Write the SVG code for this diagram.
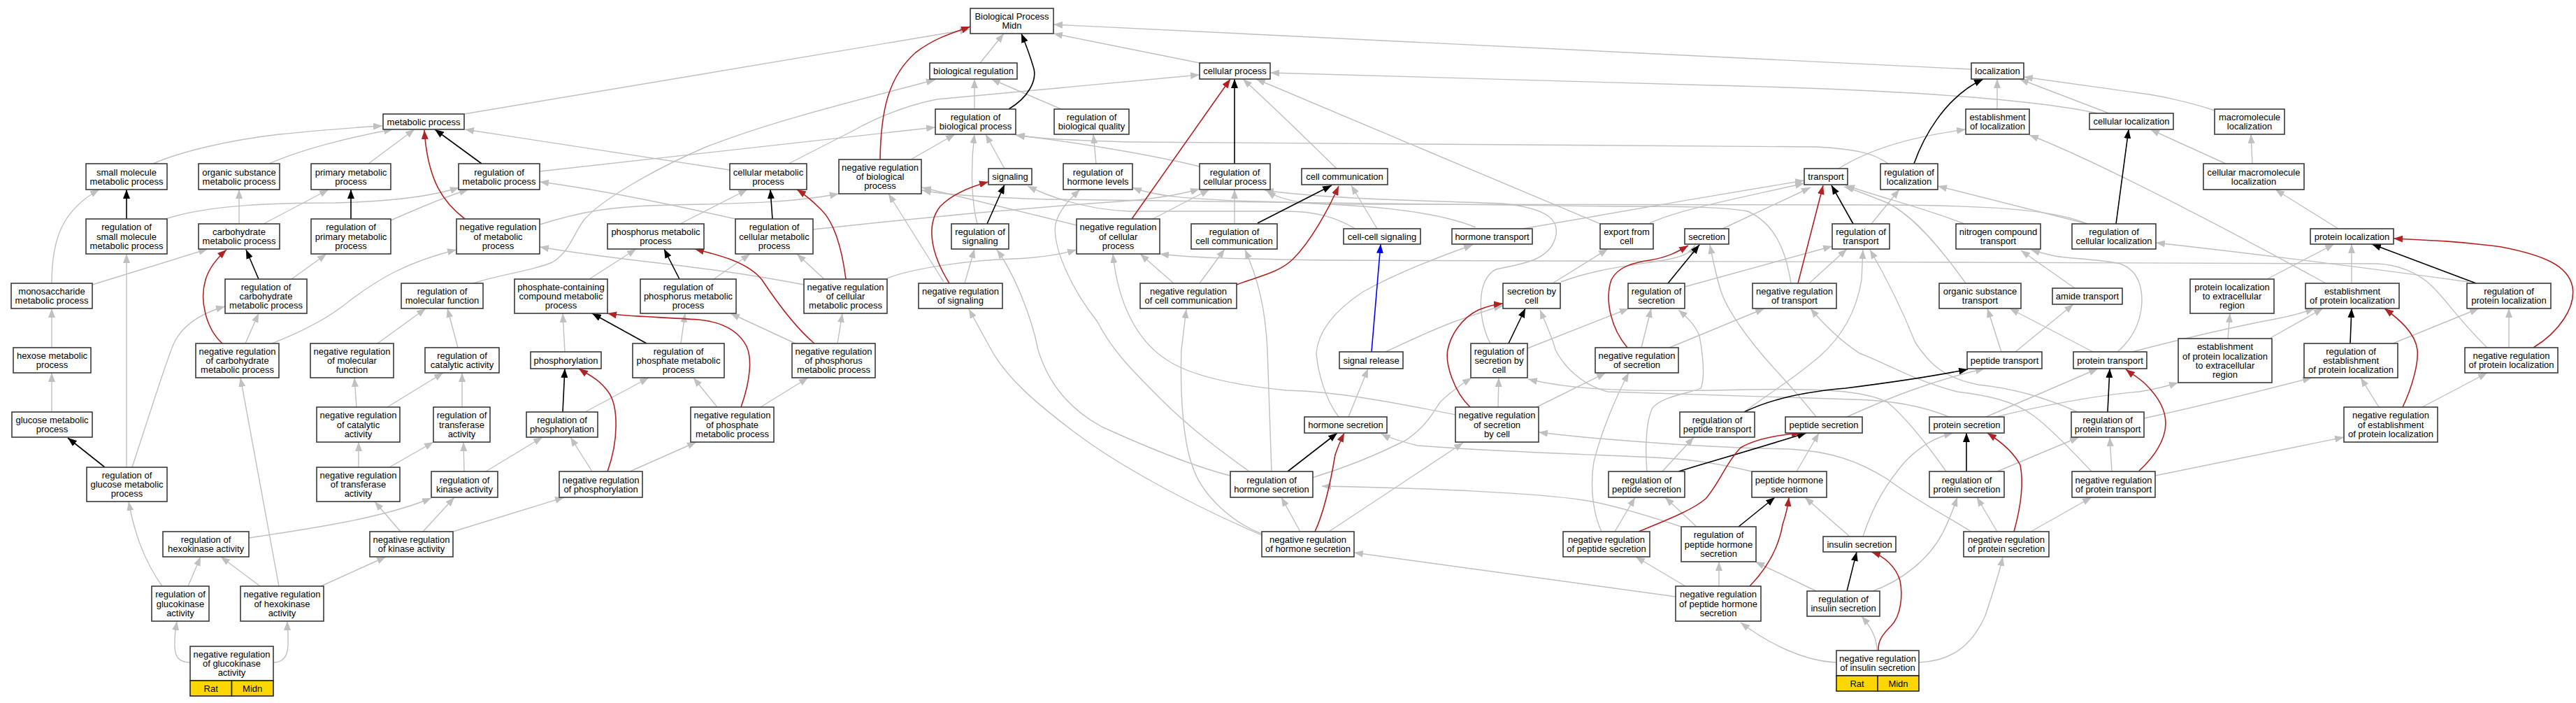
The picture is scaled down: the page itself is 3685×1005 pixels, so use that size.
<svg xmlns="http://www.w3.org/2000/svg" width="3685" height="1005" viewBox="0 0 3685 1005">
<style>
.e{fill:none;stroke:#c0c0c0;stroke-width:1.4;marker-end:url(#ag)}
.k{fill:none;stroke:#000;stroke-width:1.6;marker-end:url(#ak)}
.r{fill:none;stroke:#b22222;stroke-width:1.6;marker-end:url(#ar)}
.b{fill:none;stroke:#0000ff;stroke-width:1.6;marker-end:url(#ab)}
.n rect{fill:#fff;stroke:#3a3a3a;stroke-width:1.6}
.n rect.y{fill:#ffd700;stroke:#222}
.n text{font-family:"Liberation Sans",Arial,sans-serif;font-size:13px;text-anchor:middle;fill:#000}
</style>
<defs>
<marker id="ag" markerUnits="userSpaceOnUse" markerWidth="13" markerHeight="10" viewBox="0 0 13 10" refX="13" refY="5" orient="auto"><path d="M0,0 L13,5 L0,10 z" fill="#c0c0c0"/></marker>
<marker id="ak" markerUnits="userSpaceOnUse" markerWidth="13" markerHeight="10" viewBox="0 0 13 10" refX="13" refY="5" orient="auto"><path d="M0,0 L13,5 L0,10 z" fill="#000"/></marker>
<marker id="ar" markerUnits="userSpaceOnUse" markerWidth="13" markerHeight="10" viewBox="0 0 13 10" refX="13" refY="5" orient="auto"><path d="M0,0 L13,5 L0,10 z" fill="#b22222"/></marker>
<marker id="ab" markerUnits="userSpaceOnUse" markerWidth="13" markerHeight="10" viewBox="0 0 13 10" refX="13" refY="5" orient="auto"><path d="M0,0 L13,5 L0,10 z" fill="#0000ff"/></marker>
</defs>
<rect width="3685" height="1005" fill="#fff"/>
<g id="edges">
<path class="e" d="M219,234 C260,216 330,200 400,192 C460,186 510,182 547,180"/>
<path class="e" d="M385,234 C430,214 500,196 562,185"/>
<path class="e" d="M527,234 L593,185"/>
<path class="e" d="M1044,243 L665,185"/>
<path class="e" d="M74,405 C74,340 90,300 142,271"/>
<path class="e" d="M342,320 L342,271"/>
<path class="e" d="M377,320 L470,271"/>
<path class="e" d="M237,313 C300,292 400,290 480,290 C560,288 620,280 657,268"/>
<path class="e" d="M559,315 C600,297 640,280 670,271"/>
<path class="e" d="M417,399 L467,363"/>
<path class="e" d="M351,491 L370,448"/>
<path class="e" d="M132,407 L297,356"/>
<path class="e" d="M74,497 L74,441"/>
<path class="e" d="M181,668 L181,363"/>
<path class="e" d="M189,668 C205,620 230,540 245,500 C255,470 280,450 322,438"/>
<path class="e" d="M389,491 C430,475 470,455 500,430 C540,400 580,375 653,357"/>
<path class="e" d="M540,491 L609,441"/>
<path class="e" d="M74,589 L74,533"/>
<path class="e" d="M232,838 C205,800 192,760 184,717"/>
<path class="e" d="M269,838 L287,796"/>
<path class="e" d="M372,838 L316,796"/>
<path class="e" d="M399,838 L344,540"/>
<path class="e" d="M459,838 L552,796"/>
<path class="e" d="M272,947 C252,947 249,935 250,915 C250,905 252,895 253,888"/>
<path class="e" d="M391,947 C411,947 413,930 412,910 C412,902 411,895 411,888"/>
<path class="e" d="M356,769 C450,755 550,740 617,712"/>
<path class="e" d="M573,760 L536,717"/>
<path class="e" d="M605,760 L650,711"/>
<path class="e" d="M513,668 L513,632"/>
<path class="e" d="M557,668 L620,632"/>
<path class="e" d="M510,582 L507,540"/>
<path class="e" d="M554,582 L634,533"/>
<path class="e" d="M661,582 L661,533"/>
<path class="e" d="M664,674 L663,632"/>
<path class="e" d="M695,674 L776,625"/>
<path class="e" d="M648,760 L807,711"/>
<path class="e" d="M837,589 L928,540"/>
<path class="e" d="M847,674 L816,625"/>
<path class="e" d="M901,674 L996,632"/>
<path class="e" d="M1026,582 L992,540"/>
<path class="e" d="M1088,582 L1156,540"/>
<path class="e" d="M677,405 C710,393 760,388 790,375 C815,360 820,335 835,315 C860,285 940,240 1010,210 C1100,175 1200,150 1338,114"/>
<path class="e" d="M772,245 L1338,182"/>
<path class="e" d="M1128,234 L1220,187 C1260,165 1300,150 1340,142 L1716,107"/>
<path class="e" d="M664,163 L1386,42"/>
<path class="e" d="M772,321 C830,303 870,295 960,293 C1060,291 1130,290 1200,277"/>
<path class="e" d="M1052,313 C950,290 850,270 772,260"/>
<path class="e" d="M1163,328 L1220,322 C1350,308 1500,295 1615,287 C1660,283 1690,278 1716,270"/>
<path class="e" d="M973,320 L1069,271"/>
<path class="e" d="M1179,399 L1140,363"/>
<path class="e" d="M1150,407 C1000,378 900,375 772,353"/>
<path class="e" d="M843,399 L910,356"/>
<path class="e" d="M1021,399 L1073,363"/>
<path class="e" d="M974,491 L980,448"/>
<path class="e" d="M1138,491 L1045,448"/>
<path class="e" d="M1198,491 L1205,448"/>
<path class="e" d="M808,503 L805,448"/>
<path class="e" d="M655,497 L640,441"/>
<path class="e" d="M1269,398 C1300,385 1380,372 1450,370 C1490,368 1520,363 1540,357"/>
<path class="e" d="M1402,90 L1436,48"/>
<path class="e" d="M1394,156 L1394,113"/>
<path class="e" d="M1518,156 L1418,113"/>
<path class="e" d="M1716,90 L1507,48"/>
<path class="e" d="M2820,99 L1507,35"/>
<path class="e" d="M1303,228 L1366,192"/>
<path class="e" d="M1398,320 C1390,290 1388,240 1394,192"/>
<path class="e" d="M1437,241 L1410,192"/>
<path class="e" d="M1716,238 C1650,222 1550,205 1453,193"/>
<path class="e" d="M2701,234 C2680,218 2650,213 2600,210 L1620,203 C1540,201 1480,198 1453,193"/>
<path class="e" d="M1568,234 L1564,192"/>
<path class="e" d="M1380,405 L1394,356"/>
<path class="e" d="M1350,403 L1271,277"/>
<path class="e" d="M1540,322 L1319,268"/>
<path class="e" d="M1649,313 L1730,271"/>
<path class="e" d="M1766,320 L1766,271"/>
<path class="e" d="M1679,405 L1631,363"/>
<path class="e" d="M1716,405 L1752,356"/>
<path class="e" d="M1912,241 C1880,210 1830,160 1778,113"/>
<path class="e" d="M2289,320 L1797,113"/>
<path class="e" d="M3001,162 C2900,140 2700,128 2450,122 L1817,104"/>
<path class="e" d="M2111,325 C2050,300 1950,292 1800,288 C1700,285 1650,280 1620,268"/>
<path class="e" d="M1939,327 C1910,310 1880,302 1840,302 L1615,302 C1570,300 1520,290 1470,266"/>
<path class="e" d="M2132,491 C2115,460 2110,400 2140,385 C2170,378 2215,375 2225,340 C2232,315 2215,298 2150,291 C2050,287 1900,285 1809,272"/>
<path class="e" d="M2986,320 C2940,300 2850,294 2700,293 L1900,292 C1860,291 1830,285 1812,273"/>
<path class="e" d="M2562,405 C2555,360 2540,320 2500,302 C2460,295 2400,295 2300,295 L1500,285 C1400,282 1350,278 1319,272"/>
<path class="e" d="M1970,327 L1933,265"/>
<path class="e" d="M1915,596 C1895,570 1885,530 1883,505 C1885,480 1900,450 1950,417 C1990,395 2050,370 2107,350"/>
<path class="e" d="M2178,327 C2300,305 2450,280 2581,258"/>
<path class="e" d="M2360,319 C2400,300 2480,285 2581,262"/>
<path class="e" d="M2221,405 L2300,356"/>
<path class="e" d="M2233,403 C2280,385 2330,380 2380,372 C2410,367 2420,360 2425,350"/>
<path class="e" d="M2348,497 L2362,441"/>
<path class="e" d="M2410,410 L2621,352"/>
<path class="e" d="M2388,497 L2524,441"/>
<path class="e" d="M2464,327 L2590,268"/>
<path class="e" d="M2185,498 L2330,441"/>
<path class="e" d="M2143,582 L2144,540"/>
<path class="e" d="M2198,582 L2297,533"/>
<path class="e" d="M1982,503 C2000,495 2040,475 2080,460 C2110,450 2130,442 2150,437"/>
<path class="e" d="M1929,596 L1957,527"/>
<path class="e" d="M1860,760 L1833,711"/>
<path class="e" d="M1805,765 C1700,720 1600,665 1540,620 C1480,575 1440,540 1418,500 L1386,442"/>
<path class="e" d="M1805,763 C1765,748 1720,710 1706,667 C1692,630 1688,560 1690,500 L1697,442"/>
<path class="e" d="M1901,760 L2093,633"/>
<path class="e" d="M1760,680 C1700,665 1620,630 1576,610 C1530,585 1500,550 1485,500 C1475,450 1450,390 1426,357"/>
<path class="e" d="M1787,674 C1740,640 1700,610 1660,570 C1620,530 1590,500 1570,460 C1530,410 1505,350 1510,320 C1515,300 1530,285 1545,271"/>
<path class="e" d="M1819,674 L1813,500 C1810,440 1800,400 1781,357"/>
<path class="e" d="M1877,683 C1920,670 1970,650 2010,630 C2040,610 2050,590 2060,575 C2075,560 2090,550 2105,540"/>
<path class="e" d="M2083,593 C2000,577 1920,560 1840,558 C1760,550 1700,535 1670,515 C1630,490 1600,440 1592,363"/>
<path class="e" d="M2405,753 C2344,733 2300,720 2265,715 C2200,705 2050,698 1891,695"/>
<path class="e" d="M2506,674 C2460,663 2420,657 2383,655 C2300,650 2150,647 2028,637 C2000,630 1985,625 1976,620"/>
<path class="e" d="M2397,853 L1937,790"/>
<path class="e" d="M2291,760 C2277,730 2275,690 2280,660 C2290,620 2310,570 2330,533"/>
<path class="e" d="M2411,838 L2340,796"/>
<path class="e" d="M2310,760 L2339,711"/>
<path class="e" d="M2427,753 L2382,711"/>
<path class="e" d="M2356,674 C2353,640 2355,600 2364,583 C2380,565 2420,562 2433,555 C2440,540 2435,500 2431,480 C2425,465 2415,455 2401,443"/>
<path class="e" d="M2378,674 L2423,625"/>
<path class="e" d="M2570,674 L2602,619"/>
<path class="e" d="M2646,767 L2582,711"/>
<path class="e" d="M2459,838 L2459,803"/>
<path class="e" d="M2598,845 L2511,803"/>
<path class="e" d="M2685,930 C2685,910 2675,895 2663,881"/>
<path class="e" d="M2627,947 C2580,945 2530,920 2490,890"/>
<path class="e" d="M2745,947 C2790,945 2820,925 2840,880 C2850,850 2860,820 2865,796"/>
<path class="e" d="M2665,767 C2680,720 2700,690 2725,660 C2750,635 2770,625 2794,619"/>
<path class="e" d="M2679,845 C2720,830 2760,800 2780,760 C2790,740 2795,725 2800,711"/>
<path class="e" d="M2857,760 L2828,711"/>
<path class="e" d="M2820,760 C2780,735 2740,715 2700,685 C2660,660 2620,645 2560,642 C2450,640 2300,630 2201,618"/>
<path class="e" d="M2905,760 L2992,711"/>
<path class="e" d="M2857,674 L2974,625"/>
<path class="e" d="M2784,674 C2760,640 2730,600 2700,575 C2670,560 2620,553 2450,558 C2300,560 2240,555 2186,542"/>
<path class="e" d="M2788,596 C2750,580 2700,572 2650,571 L2300,560 C2260,550 2235,520 2225,500 C2220,480 2210,460 2203,443"/>
<path class="e" d="M2841,596 L3001,527"/>
<path class="e" d="M2855,596 C2920,580 3000,565 3060,560 C3080,557 3100,552 3116,547"/>
<path class="e" d="M2598,596 C2570,560 2540,530 2519,505 C2490,470 2470,440 2462,417 C2455,395 2450,370 2446,350"/>
<path class="e" d="M2642,596 C2700,570 2760,545 2839,527"/>
<path class="e" d="M2495,589 C2520,570 2560,545 2590,520 C2630,490 2655,450 2663,400 L2665,357"/>
<path class="e" d="M2992,674 C2960,640 2930,610 2910,595 C2880,572 2840,565 2800,560 C2740,545 2700,520 2660,505 C2630,485 2610,465 2590,441"/>
<path class="e" d="M2972,589 C2930,570 2880,555 2830,550 C2780,540 2760,520 2740,490 C2720,440 2700,400 2675,357"/>
<path class="e" d="M3021,674 L3018,625"/>
<path class="e" d="M3083,680 L3353,625"/>
<path class="e" d="M3067,598 C3150,580 3230,560 3307,540"/>
<path class="e" d="M2994,503 L2875,441"/>
<path class="e" d="M3029,503 C3050,485 3063,460 3064,430 C3064,405 3055,385 3033,377 C3000,370 2960,370 2940,366 C2925,363 2915,360 2905,357"/>
<path class="e" d="M3050,503 C3100,490 3180,470 3260,455 C3285,450 3300,445 3311,441"/>
<path class="e" d="M2863,503 L2843,441"/>
<path class="e" d="M2883,503 L2966,435"/>
<path class="e" d="M2968,412 L2891,358"/>
<path class="e" d="M2812,405 C2780,360 2740,310 2700,290 C2670,278 2650,270 2638,267"/>
<path class="e" d="M2810,320 C2760,300 2700,285 2640,265"/>
<path class="e" d="M2588,405 L2642,356"/>
<path class="e" d="M2677,320 L2717,271"/>
<path class="e" d="M2630,241 C2680,210 2740,195 2812,185"/>
<path class="e" d="M2857,156 L2857,113"/>
<path class="e" d="M3017,162 L2889,113"/>
<path class="e" d="M3168,158 C3130,145 3080,135 3060,133 L2895,110"/>
<path class="e" d="M2986,320 L2772,266"/>
<path class="e" d="M3184,234 L3076,185"/>
<path class="e" d="M3222,234 L3220,192"/>
<path class="e" d="M3345,327 L3255,271"/>
<path class="e" d="M3327,405 C3200,335 3000,230 2903,193"/>
<path class="e" d="M3243,399 L3339,349"/>
<path class="e" d="M3364,405 L3364,349"/>
<path class="e" d="M3187,484 L3190,448"/>
<path class="e" d="M3248,483 L3323,441"/>
<path class="e" d="M3423,491 L3546,441"/>
<path class="e" d="M3589,497 L3589,441"/>
<path class="e" d="M3403,582 L3377,540"/>
<path class="e" d="M3465,582 L3558,533"/>
<path class="e" d="M3531,403 C3400,385 3200,360 3084,347"/>
<path class="e" d="M3558,497 C3520,460 3500,430 3480,410 C3460,390 3430,378 3400,377 L1900,372 C1750,370 1700,368 1659,363"/>
<path class="k" d="M689,234 L622,185"/>
<path class="k" d="M181,313 L181,271"/>
<path class="k" d="M502,313 L502,271"/>
<path class="k" d="M370,399 L352,357"/>
<path class="k" d="M150,668 L97,626"/>
<path class="k" d="M805,589 L808,527"/>
<path class="k" d="M1105,313 L1102,271"/>
<path class="k" d="M972,399 L950,356"/>
<path class="k" d="M925,491 L847,448"/>
<path class="k" d="M1443,156 C1470,140 1485,115 1478,95 C1472,75 1466,60 1461,48"/>
<path class="k" d="M1766,234 L1766,113"/>
<path class="k" d="M1412,320 L1437,264"/>
<path class="k" d="M1799,319 L1905,265"/>
<path class="k" d="M2386,405 L2431,350"/>
<path class="k" d="M2158,491 L2182,441"/>
<path class="k" d="M1842,674 L1913,619"/>
<path class="k" d="M2401,674 C2440,662 2500,645 2584,619"/>
<path class="k" d="M2487,753 L2539,711"/>
<path class="k" d="M2642,845 L2656,789"/>
<path class="k" d="M2813,674 L2813,619"/>
<path class="k" d="M2495,589 C2530,572 2580,560 2640,555 C2720,545 2780,535 2815,528"/>
<path class="k" d="M3015,589 L3018,527"/>
<path class="k" d="M2651,320 L2620,265"/>
<path class="k" d="M2738,234 C2750,200 2780,140 2837,113"/>
<path class="k" d="M3027,320 L3045,185"/>
<path class="k" d="M3542,405 L3393,349"/>
<path class="k" d="M3362,491 L3364,441"/>
<path class="r" d="M665,313 C635,290 612,260 607,186"/>
<path class="r" d="M318,491 C295,470 285,430 294,400 C300,380 315,365 324,357"/>
<path class="r" d="M869,674 C885,630 885,580 870,560 C855,540 840,535 828,527"/>
<path class="r" d="M1060,582 C1075,540 1075,510 1068,495 C1055,470 1030,460 1000,457 C940,453 890,452 869,448"/>
<path class="r" d="M1210,399 C1205,360 1195,320 1175,300 C1160,285 1148,276 1140,271"/>
<path class="r" d="M1165,491 C1140,470 1110,430 1090,400 C1070,375 1030,365 994,356"/>
<path class="r" d="M1259,228 C1260,160 1270,110 1310,75 C1340,52 1370,45 1388,38"/>
<path class="r" d="M1619,313 L1760,113"/>
<path class="r" d="M1358,405 C1330,360 1325,320 1345,295 C1365,275 1395,265 1414,260"/>
<path class="r" d="M1769,407 C1800,395 1830,390 1850,370 C1875,345 1900,300 1915,266"/>
<path class="r" d="M2328,497 C2305,470 2295,430 2305,400 C2315,380 2340,375 2360,372 C2385,368 2400,360 2415,351"/>
<path class="r" d="M2103,582 C2080,560 2067,520 2071,500 C2075,480 2090,455 2115,443 C2130,437 2140,435 2150,434"/>
<path class="r" d="M1881,760 C1895,730 1905,680 1910,650 C1915,635 1920,625 1923,619"/>
<path class="r" d="M2344,760 C2380,745 2420,730 2440,713 C2460,690 2470,660 2490,640 C2510,628 2540,622 2576,619"/>
<path class="r" d="M2503,838 C2530,810 2545,780 2550,750 C2555,735 2558,720 2559,711"/>
<path class="r" d="M2687,930 C2686,915 2695,905 2705,895 C2720,880 2722,850 2718,830 C2712,810 2695,795 2677,789"/>
<path class="r" d="M2881,760 C2892,720 2895,690 2890,665 C2880,645 2860,630 2843,619"/>
<path class="r" d="M3060,673 C3080,655 3098,630 3098,605 C3098,580 3080,560 3070,550 C3060,540 3050,535 3041,528"/>
<path class="r" d="M2572,405 L2608,265"/>
<path class="r" d="M3624,497 C3660,475 3685,440 3680,410 C3674,380 3640,365 3578,353 C3520,345 3470,343 3424,341"/>
<path class="r" d="M3437,582 C3450,555 3460,520 3458,500 C3455,475 3430,455 3411,441"/>
<path class="b" d="M1962,503 L1975,349"/>
</g>
<g id="n_bp" class="n"><rect x="1388" y="12" width="119" height="36"/><text><tspan x="1447.5" y="27.9">Biological Process</tspan><tspan x="1447.5" y="41.2">Midn</tspan></text></g>
<g id="n_bioreg" class="n"><rect x="1330" y="90" width="125" height="23"/><text x="1392.5" y="106.1">biological regulation</text></g>
<g id="n_cellproc" class="n"><rect x="1716" y="90" width="101" height="23"/><text x="1766.5" y="106.1">cellular process</text></g>
<g id="n_loc" class="n"><rect x="2820" y="90" width="75" height="23"/><text x="2857.5" y="106.1">localization</text></g>
<g id="n_regbio" class="n"><rect x="1338" y="156" width="115" height="36"/><text><tspan x="1395.5" y="172">regulation of</tspan><tspan x="1395.5" y="185.3">biological process</tspan></text></g>
<g id="n_regbioq" class="n"><rect x="1508" y="156" width="107" height="36"/><text><tspan x="1561.5" y="172">regulation of</tspan><tspan x="1561.5" y="185.3">biological quality</tspan></text></g>
<g id="n_estloc" class="n"><rect x="2812" y="156" width="91" height="36"/><text><tspan x="2857.5" y="172">establishment</tspan><tspan x="2857.5" y="185.3">of localization</tspan></text></g>
<g id="n_macroloc" class="n"><rect x="3168" y="156" width="100" height="36"/><text><tspan x="3218" y="172">macromolecule</tspan><tspan x="3218" y="185.3">localization</tspan></text></g>
<g id="n_cellloc" class="n"><rect x="2989" y="162" width="120" height="23"/><text x="3049" y="178.1">cellular localization</text></g>
<g id="n_metab" class="n"><rect x="548" y="163" width="116" height="22"/><text x="606" y="178.6">metabolic process</text></g>
<g id="n_negregbio" class="n"><rect x="1200" y="228" width="118" height="49"/><text><tspan x="1259" y="243.8">negative regulation</tspan><tspan x="1259" y="257.1">of biological</tspan><tspan x="1259" y="270.4">process</tspan></text></g>
<g id="n_smallmol" class="n"><rect x="123" y="234" width="116" height="37"/><text><tspan x="181" y="250.5">small molecule</tspan><tspan x="181" y="263.8">metabolic process</tspan></text></g>
<g id="n_orgsub" class="n"><rect x="284" y="234" width="116" height="37"/><text><tspan x="342" y="250.5">organic substance</tspan><tspan x="342" y="263.8">metabolic process</tspan></text></g>
<g id="n_primary" class="n"><rect x="445" y="234" width="114" height="37"/><text><tspan x="502" y="250.5">primary metabolic</tspan><tspan x="502" y="263.8">process</tspan></text></g>
<g id="n_regmetab" class="n"><rect x="656" y="234" width="116" height="37"/><text><tspan x="714" y="250.5">regulation of</tspan><tspan x="714" y="263.8">metabolic process</tspan></text></g>
<g id="n_cellmetab" class="n"><rect x="1044" y="234" width="110" height="37"/><text><tspan x="1099" y="250.5">cellular metabolic</tspan><tspan x="1099" y="263.8">process</tspan></text></g>
<g id="n_reghormlev" class="n"><rect x="1521" y="234" width="99" height="37"/><text><tspan x="1570.5" y="250.5">regulation of</tspan><tspan x="1570.5" y="263.8">hormone levels</tspan></text></g>
<g id="n_regcellproc" class="n"><rect x="1716" y="234" width="101" height="37"/><text><tspan x="1766.5" y="250.5">regulation of</tspan><tspan x="1766.5" y="263.8">cellular process</tspan></text></g>
<g id="n_regloc" class="n"><rect x="2690" y="234" width="82" height="37"/><text><tspan x="2731" y="250.5">regulation of</tspan><tspan x="2731" y="263.8">localization</tspan></text></g>
<g id="n_cellmacroloc" class="n"><rect x="3152" y="234" width="144" height="37"/><text><tspan x="3224" y="250.5">cellular macromolecule</tspan><tspan x="3224" y="263.8">localization</tspan></text></g>
<g id="n_signaling" class="n"><rect x="1414" y="241" width="62" height="23"/><text x="1445" y="257.1">signaling</text></g>
<g id="n_cellcomm" class="n"><rect x="1862" y="241" width="123" height="23"/><text x="1923.5" y="257.1">cell communication</text></g>
<g id="n_transport" class="n"><rect x="2581" y="241" width="62" height="23"/><text x="2612" y="257.1">transport</text></g>
<g id="n_regsmall" class="n"><rect x="123" y="313" width="116" height="50"/><text><tspan x="181" y="329.3">regulation of</tspan><tspan x="181" y="342.6">small molecule</tspan><tspan x="181" y="355.9">metabolic process</tspan></text></g>
<g id="n_regprimary" class="n"><rect x="445" y="313" width="114" height="50"/><text><tspan x="502" y="329.3">regulation of</tspan><tspan x="502" y="342.6">primary metabolic</tspan><tspan x="502" y="355.9">process</tspan></text></g>
<g id="n_negregmetab" class="n"><rect x="653" y="313" width="119" height="50"/><text><tspan x="712.5" y="329.3">negative regulation</tspan><tspan x="712.5" y="342.6">of metabolic</tspan><tspan x="712.5" y="355.9">process</tspan></text></g>
<g id="n_regcellmetab" class="n"><rect x="1052" y="313" width="111" height="50"/><text><tspan x="1107.5" y="329.3">regulation of</tspan><tspan x="1107.5" y="342.6">cellular metabolic</tspan><tspan x="1107.5" y="355.9">process</tspan></text></g>
<g id="n_negregcellproc" class="n"><rect x="1540" y="313" width="119" height="50"/><text><tspan x="1599.5" y="329.3">negative regulation</tspan><tspan x="1599.5" y="342.6">of cellular</tspan><tspan x="1599.5" y="355.9">process</tspan></text></g>
<g id="n_carb" class="n"><rect x="284" y="320" width="116" height="36"/><text><tspan x="342" y="336">carbohydrate</tspan><tspan x="342" y="349.3">metabolic process</tspan></text></g>
<g id="n_phosphorus" class="n"><rect x="869" y="320" width="138" height="36"/><text><tspan x="938" y="336">phosphorus metabolic</tspan><tspan x="938" y="349.3">process</tspan></text></g>
<g id="n_regsignaling" class="n"><rect x="1361" y="320" width="82" height="36"/><text><tspan x="1402" y="336">regulation of</tspan><tspan x="1402" y="349.3">signaling</tspan></text></g>
<g id="n_regcellcomm" class="n"><rect x="1704" y="320" width="123" height="36"/><text><tspan x="1765.5" y="336">regulation of</tspan><tspan x="1765.5" y="349.3">cell communication</tspan></text></g>
<g id="n_export" class="n"><rect x="2289" y="320" width="76" height="36"/><text><tspan x="2327" y="336">export from</tspan><tspan x="2327" y="349.3">cell</tspan></text></g>
<g id="n_regtransport" class="n"><rect x="2621" y="320" width="82" height="36"/><text><tspan x="2662" y="336">regulation of</tspan><tspan x="2662" y="349.3">transport</tspan></text></g>
<g id="n_nitrogen" class="n"><rect x="2798" y="320" width="121" height="36"/><text><tspan x="2858.5" y="336">nitrogen compound</tspan><tspan x="2858.5" y="349.3">transport</tspan></text></g>
<g id="n_regcellloc" class="n"><rect x="2964" y="320" width="120" height="36"/><text><tspan x="3024" y="336">regulation of</tspan><tspan x="3024" y="349.3">cellular localization</tspan></text></g>
<g id="n_cellcell" class="n"><rect x="1922" y="327" width="110" height="22"/><text x="1977" y="342.6">cell-cell signaling</text></g>
<g id="n_hormtrans" class="n"><rect x="2077" y="327" width="115" height="22"/><text x="2134.5" y="342.6">hormone transport</text></g>
<g id="n_secretion" class="n"><rect x="2410" y="327" width="63" height="22"/><text x="2441.5" y="342.6">secretion</text></g>
<g id="n_protloc" class="n"><rect x="3305" y="327" width="119" height="22"/><text x="3364.5" y="342.6">protein localization</text></g>
<g id="n_regcarb" class="n"><rect x="322" y="399" width="117" height="49"/><text><tspan x="380.5" y="414.8">regulation of</tspan><tspan x="380.5" y="428.1">carbohydrate</tspan><tspan x="380.5" y="441.4">metabolic process</tspan></text></g>
<g id="n_phosphate" class="n"><rect x="736" y="399" width="133" height="49"/><text><tspan x="802.5" y="414.8">phosphate-containing</tspan><tspan x="802.5" y="428.1">compound metabolic</tspan><tspan x="802.5" y="441.4">process</tspan></text></g>
<g id="n_regphosphorus" class="n"><rect x="916" y="399" width="137" height="49"/><text><tspan x="984.5" y="414.8">regulation of</tspan><tspan x="984.5" y="428.1">phosphorus metabolic</tspan><tspan x="984.5" y="441.4">process</tspan></text></g>
<g id="n_negregcellmetab" class="n"><rect x="1150" y="399" width="119" height="49"/><text><tspan x="1209.5" y="414.8">negative regulation</tspan><tspan x="1209.5" y="428.1">of cellular</tspan><tspan x="1209.5" y="441.4">metabolic process</tspan></text></g>
<g id="n_protlocextra" class="n"><rect x="3133" y="399" width="120" height="49"/><text><tspan x="3193" y="414.8">protein localization</tspan><tspan x="3193" y="428.1">to extracellular</tspan><tspan x="3193" y="441.4">region</tspan></text></g>
<g id="n_monosacch" class="n"><rect x="16" y="405" width="116" height="36"/><text><tspan x="74" y="421">monosaccharide</tspan><tspan x="74" y="434.3">metabolic process</tspan></text></g>
<g id="n_regmolfunc" class="n"><rect x="574" y="405" width="117" height="36"/><text><tspan x="632.5" y="421">regulation of</tspan><tspan x="632.5" y="434.3">molecular function</tspan></text></g>
<g id="n_negregsignaling" class="n"><rect x="1314" y="405" width="120" height="36"/><text><tspan x="1374" y="421">negative regulation</tspan><tspan x="1374" y="434.3">of signaling</tspan></text></g>
<g id="n_negregcellcomm" class="n"><rect x="1631" y="405" width="138" height="36"/><text><tspan x="1700" y="421">negative regulation</tspan><tspan x="1700" y="434.3">of cell communication</tspan></text></g>
<g id="n_seccell" class="n"><rect x="2150" y="405" width="82" height="36"/><text><tspan x="2191" y="421">secretion by</tspan><tspan x="2191" y="434.3">cell</tspan></text></g>
<g id="n_regsecretion" class="n"><rect x="2329" y="405" width="81" height="36"/><text><tspan x="2369.5" y="421">regulation of</tspan><tspan x="2369.5" y="434.3">secretion</tspan></text></g>
<g id="n_negregtransport" class="n"><rect x="2507" y="405" width="120" height="36"/><text><tspan x="2567" y="421">negative regulation</tspan><tspan x="2567" y="434.3">of transport</tspan></text></g>
<g id="n_orgsubtrans" class="n"><rect x="2774" y="405" width="117" height="36"/><text><tspan x="2832.5" y="421">organic substance</tspan><tspan x="2832.5" y="434.3">transport</tspan></text></g>
<g id="n_estprotloc" class="n"><rect x="3298" y="405" width="134" height="36"/><text><tspan x="3365" y="421">establishment</tspan><tspan x="3365" y="434.3">of protein localization</tspan></text></g>
<g id="n_regprotloc" class="n"><rect x="3529" y="405" width="120" height="36"/><text><tspan x="3589" y="421">regulation of</tspan><tspan x="3589" y="434.3">protein localization</tspan></text></g>
<g id="n_amide" class="n"><rect x="2936" y="412" width="100" height="23"/><text x="2986" y="428.1">amide transport</text></g>
<g id="n_estprotlocextra" class="n"><rect x="3116" y="484" width="134" height="63"/><text><tspan x="3183" y="500.2">establishment</tspan><tspan x="3183" y="513.5">of protein localization</tspan><tspan x="3183" y="526.8">to extracellular</tspan><tspan x="3183" y="540.1">region</tspan></text></g>
<g id="n_negregcarb" class="n"><rect x="280" y="491" width="119" height="49"/><text><tspan x="339.5" y="506.8">negative regulation</tspan><tspan x="339.5" y="520.1">of carbohydrate</tspan><tspan x="339.5" y="533.4">metabolic process</tspan></text></g>
<g id="n_negregmolfunc" class="n"><rect x="444" y="491" width="119" height="49"/><text><tspan x="503.5" y="506.8">negative regulation</tspan><tspan x="503.5" y="520.1">of molecular</tspan><tspan x="503.5" y="533.4">function</tspan></text></g>
<g id="n_regphosphate" class="n"><rect x="905" y="491" width="131" height="49"/><text><tspan x="970.5" y="506.8">regulation of</tspan><tspan x="970.5" y="520.1">phosphate metabolic</tspan><tspan x="970.5" y="533.4">process</tspan></text></g>
<g id="n_negregphosphorus" class="n"><rect x="1133" y="491" width="119" height="49"/><text><tspan x="1192.5" y="506.8">negative regulation</tspan><tspan x="1192.5" y="520.1">of phosphorus</tspan><tspan x="1192.5" y="533.4">metabolic process</tspan></text></g>
<g id="n_regseccell" class="n"><rect x="2104" y="491" width="81" height="49"/><text><tspan x="2144.5" y="506.8">regulation of</tspan><tspan x="2144.5" y="520.1">secretion by</tspan><tspan x="2144.5" y="533.4">cell</tspan></text></g>
<g id="n_regestprotloc" class="n"><rect x="3296" y="491" width="134" height="49"/><text><tspan x="3363" y="506.8">regulation of</tspan><tspan x="3363" y="520.1">establishment</tspan><tspan x="3363" y="533.4">of protein localization</tspan></text></g>
<g id="n_hexose" class="n"><rect x="19" y="497" width="111" height="36"/><text><tspan x="74.5" y="513">hexose metabolic</tspan><tspan x="74.5" y="526.3">process</tspan></text></g>
<g id="n_regcatalytic" class="n"><rect x="608" y="497" width="106" height="36"/><text><tspan x="661" y="513">regulation of</tspan><tspan x="661" y="526.3">catalytic activity</tspan></text></g>
<g id="n_negregsecretion" class="n"><rect x="2282" y="497" width="119" height="36"/><text><tspan x="2341.5" y="513">negative regulation</tspan><tspan x="2341.5" y="526.3">of secretion</tspan></text></g>
<g id="n_negregprotloc" class="n"><rect x="3526" y="497" width="133" height="36"/><text><tspan x="3592.5" y="513">negative regulation</tspan><tspan x="3592.5" y="526.3">of protein localization</tspan></text></g>
<g id="n_phosphorylation" class="n"><rect x="759" y="503" width="101" height="24"/><text x="809.5" y="519.6">phosphorylation</text></g>
<g id="n_signalrelease" class="n"><rect x="1916" y="503" width="91" height="24"/><text x="1961.5" y="519.6">signal release</text></g>
<g id="n_peptrans" class="n"><rect x="2814" y="503" width="107" height="24"/><text x="2867.5" y="519.6">peptide transport</text></g>
<g id="n_prottrans" class="n"><rect x="2966" y="503" width="105" height="24"/><text x="3018.5" y="519.6">protein transport</text></g>
<g id="n_negregcatalytic" class="n"><rect x="453" y="582" width="119" height="50"/><text><tspan x="512.5" y="598.3">negative regulation</tspan><tspan x="512.5" y="611.6">of catalytic</tspan><tspan x="512.5" y="624.9">activity</tspan></text></g>
<g id="n_regtransferase" class="n"><rect x="620" y="582" width="81" height="50"/><text><tspan x="660.5" y="598.3">regulation of</tspan><tspan x="660.5" y="611.6">transferase</tspan><tspan x="660.5" y="624.9">activity</tspan></text></g>
<g id="n_negregphosphate" class="n"><rect x="988" y="582" width="119" height="50"/><text><tspan x="1047.5" y="598.3">negative regulation</tspan><tspan x="1047.5" y="611.6">of phosphate</tspan><tspan x="1047.5" y="624.9">metabolic process</tspan></text></g>
<g id="n_negregseccell" class="n"><rect x="2082" y="582" width="119" height="50"/><text><tspan x="2141.5" y="598.3">negative regulation</tspan><tspan x="2141.5" y="611.6">of secretion</tspan><tspan x="2141.5" y="624.9">by cell</tspan></text></g>
<g id="n_negregestprotloc" class="n"><rect x="3353" y="582" width="134" height="50"/><text><tspan x="3420" y="598.3">negative regulation</tspan><tspan x="3420" y="611.6">of establishment</tspan><tspan x="3420" y="624.9">of protein localization</tspan></text></g>
<g id="n_glucose" class="n"><rect x="17" y="589" width="115" height="36"/><text><tspan x="74.5" y="605">glucose metabolic</tspan><tspan x="74.5" y="618.3">process</tspan></text></g>
<g id="n_regphosphorylation" class="n"><rect x="753" y="589" width="102" height="36"/><text><tspan x="804" y="605">regulation of</tspan><tspan x="804" y="618.3">phosphorylation</tspan></text></g>
<g id="n_regpeptrans" class="n"><rect x="2403" y="589" width="107" height="36"/><text><tspan x="2456.5" y="605">regulation of</tspan><tspan x="2456.5" y="618.3">peptide transport</tspan></text></g>
<g id="n_regprottrans" class="n"><rect x="2963" y="589" width="104" height="36"/><text><tspan x="3015" y="605">regulation of</tspan><tspan x="3015" y="618.3">protein transport</tspan></text></g>
<g id="n_hormsec" class="n"><rect x="1866" y="596" width="118" height="23"/><text x="1925" y="612.1">hormone secretion</text></g>
<g id="n_pepsec" class="n"><rect x="2554" y="596" width="110" height="23"/><text x="2609" y="612.1">peptide secretion</text></g>
<g id="n_protsec" class="n"><rect x="2760" y="596" width="107" height="23"/><text x="2813.5" y="612.1">protein secretion</text></g>
<g id="n_regglucose" class="n"><rect x="124" y="668" width="115" height="49"/><text><tspan x="181.5" y="683.8">regulation of</tspan><tspan x="181.5" y="697.1">glucose metabolic</tspan><tspan x="181.5" y="710.4">process</tspan></text></g>
<g id="n_negregtransferase" class="n"><rect x="453" y="668" width="119" height="49"/><text><tspan x="512.5" y="683.8">negative regulation</tspan><tspan x="512.5" y="697.1">of transferase</tspan><tspan x="512.5" y="710.4">activity</tspan></text></g>
<g id="n_regkinase" class="n"><rect x="617" y="674" width="95" height="37"/><text><tspan x="664.5" y="690.5">regulation of</tspan><tspan x="664.5" y="703.8">kinase activity</tspan></text></g>
<g id="n_negregphosphorylation" class="n"><rect x="800" y="674" width="119" height="37"/><text><tspan x="859.5" y="690.5">negative regulation</tspan><tspan x="859.5" y="703.8">of phosphorylation</tspan></text></g>
<g id="n_reghormsec" class="n"><rect x="1760" y="674" width="118" height="37"/><text><tspan x="1819" y="690.5">regulation of</tspan><tspan x="1819" y="703.8">hormone secretion</tspan></text></g>
<g id="n_regpepsec" class="n"><rect x="2301" y="674" width="109" height="37"/><text><tspan x="2355.5" y="690.5">regulation of</tspan><tspan x="2355.5" y="703.8">peptide secretion</tspan></text></g>
<g id="n_pephormsec" class="n"><rect x="2506" y="674" width="107" height="37"/><text><tspan x="2559.5" y="690.5">peptide hormone</tspan><tspan x="2559.5" y="703.8">secretion</tspan></text></g>
<g id="n_regprotsec" class="n"><rect x="2760" y="674" width="107" height="37"/><text><tspan x="2813.5" y="690.5">regulation of</tspan><tspan x="2813.5" y="703.8">protein secretion</tspan></text></g>
<g id="n_negregprottrans" class="n"><rect x="2964" y="674" width="119" height="37"/><text><tspan x="3023.5" y="690.5">negative regulation</tspan><tspan x="3023.5" y="703.8">of protein transport</tspan></text></g>
<g id="n_regpephormsec" class="n"><rect x="2405" y="753" width="107" height="50"/><text><tspan x="2458.5" y="769.3">regulation of</tspan><tspan x="2458.5" y="782.6">peptide hormone</tspan><tspan x="2458.5" y="795.9">secretion</tspan></text></g>
<g id="n_reghexo" class="n"><rect x="233" y="760" width="123" height="36"/><text><tspan x="294.5" y="776">regulation of</tspan><tspan x="294.5" y="789.3">hexokinase activity</tspan></text></g>
<g id="n_negregkinase" class="n"><rect x="529" y="760" width="119" height="36"/><text><tspan x="588.5" y="776">negative regulation</tspan><tspan x="588.5" y="789.3">of kinase activity</tspan></text></g>
<g id="n_negreghormsec" class="n"><rect x="1805" y="760" width="132" height="36"/><text><tspan x="1871" y="776">negative regulation</tspan><tspan x="1871" y="789.3">of hormone secretion</tspan></text></g>
<g id="n_negregpepsec" class="n"><rect x="2236" y="760" width="124" height="36"/><text><tspan x="2298" y="776">negative regulation</tspan><tspan x="2298" y="789.3">of peptide secretion</tspan></text></g>
<g id="n_negregprotsec" class="n"><rect x="2809" y="760" width="122" height="36"/><text><tspan x="2870" y="776">negative regulation</tspan><tspan x="2870" y="789.3">of protein secretion</tspan></text></g>
<g id="n_insulin" class="n"><rect x="2608" y="767" width="104" height="22"/><text x="2660" y="782.6">insulin secretion</text></g>
<g id="n_regglucokinase" class="n"><rect x="217" y="838" width="82" height="50"/><text><tspan x="258" y="854.3">regulation of</tspan><tspan x="258" y="867.6">glucokinase</tspan><tspan x="258" y="880.9">activity</tspan></text></g>
<g id="n_negreghexo" class="n"><rect x="344" y="838" width="119" height="50"/><text><tspan x="403.5" y="854.3">negative regulation</tspan><tspan x="403.5" y="867.6">of hexokinase</tspan><tspan x="403.5" y="880.9">activity</tspan></text></g>
<g id="n_negregpephormsec" class="n"><rect x="2397" y="838" width="122" height="50"/><text><tspan x="2458" y="854.3">negative regulation</tspan><tspan x="2458" y="867.6">of peptide hormone</tspan><tspan x="2458" y="880.9">secretion</tspan></text></g>
<g id="n_reginsulin" class="n"><rect x="2585" y="845" width="104" height="36"/><text><tspan x="2637" y="861">regulation of</tspan><tspan x="2637" y="874.3">insulin secretion</tspan></text></g>
<g id="n_negregglucokinase" class="n"><rect x="272" y="924" width="119" height="49"/><text><tspan x="331.5" y="939.8">negative regulation</tspan><tspan x="331.5" y="953.1">of glucokinase</tspan><tspan x="331.5" y="966.4">activity</tspan></text><rect class="y" x="272" y="973" width="59.5" height="22"/><rect class="y" x="331.5" y="973" width="59.5" height="22"/><text x="301.7" y="988.6">Rat</text><text x="361.2" y="988.6">Midn</text></g>
<g id="n_negreginsulin" class="n"><rect x="2627" y="930" width="118" height="36"/><text><tspan x="2686" y="946">negative regulation</tspan><tspan x="2686" y="959.3">of insulin secretion</tspan></text><rect class="y" x="2627" y="966" width="59" height="22"/><rect class="y" x="2686" y="966" width="59" height="22"/><text x="2656.5" y="981.6">Rat</text><text x="2715.5" y="981.6">Midn</text></g>
</svg>
